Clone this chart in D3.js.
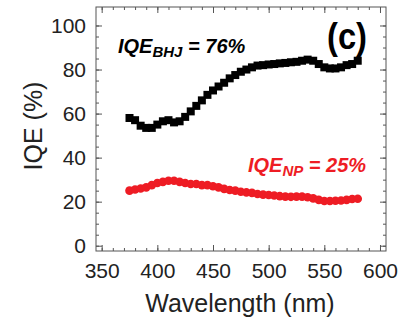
<!DOCTYPE html>
<html>
<head>
<meta charset="utf-8">
<script src="https://cdn.jsdelivr.net/npm/d3@7/dist/d3.min.js"></script>
<style>
  html, body { margin: 0; padding: 0; background: #fff; }
  svg { display: block; font-family: "Liberation Sans", Arial, sans-serif; }
</style>
</head>
<body>
<svg id="chart" width="412" height="322"></svg>
<script>
// Data
const wavelengths = [375,380,385,390,395,400,405,410,415,420,425,430,435,440,445,450,455,460,465,470,475,480,485,490,495,500,505,510,515,520,525,530,535,540,545,550,555,560,565,570,575,580];
const iqeBHJ = [58,57,54.5,53.5,53.5,55,56.5,57,56,56.5,58.5,61,63.5,66,68.5,70.5,72.3,74,76,77.5,79,80,81,81.8,82,82.3,82.5,82.8,83,83.3,83.5,84,84.5,84,82.5,81,80.5,80.5,81,82,82.5,84];
const iqeNP = [25,25.5,26,26.5,27.5,28.5,29,29.5,29.5,29,28.5,28,28,27.5,27.5,27,26.5,25.8,25.3,25,24.5,24.2,24,23.5,23.2,23,22.8,22.5,22.3,22.2,22.3,22.3,22,21.5,20.8,20.3,20.3,20.4,20.5,20.8,21.2,21.3];
const xTicks = [350,400,450,500,550,600];
const yTicks = [0,20,40,60,80,100];

const svg = d3.select("#chart");
const L = 96, R = 386, T = 7, B = 251;
const x = d3.scaleLinear().domain([344.9, 605.4]).range([L, R]);
const y = d3.scaleLinear().domain([-2.4, 108.4]).range([B, T]);
const axisColor = "#555";

// Frame
svg.append("rect").attr("x", L).attr("y", T).attr("width", R - L).attr("height", B - T)
  .attr("fill", "none").attr("stroke", axisColor).attr("stroke-width", 1);

const xMinor = d3.range(350, 601, 10);
const yMinor = d3.range(0, 101, 5);

function styleAxis(g) {
  g.select(".domain").remove();
  g.selectAll("line").attr("stroke", axisColor);
}

// bottom
svg.append("g").attr("transform", `translate(0,${B})`)
  .call(d3.axisBottom(x).tickValues(xMinor).tickSize(-3).tickFormat(""))
  .call(styleAxis);
svg.append("g").attr("transform", `translate(0,${B})`)
  .call(d3.axisBottom(x).tickValues(xTicks).tickSize(-6).tickPadding(12).tickFormat(d3.format("d")))
  .call(styleAxis)
  .call(g => g.selectAll("text").attr("font-size", 21).attr("fill", "#222")
    .attr("font-family", "Liberation Sans, Arial, sans-serif"));
// top
svg.append("g").attr("transform", `translate(0,${T})`)
  .call(d3.axisTop(x).tickValues(xMinor).tickSize(-3).tickFormat(""))
  .call(styleAxis);
svg.append("g").attr("transform", `translate(0,${T})`)
  .call(d3.axisTop(x).tickValues(xTicks).tickSize(-6).tickFormat(""))
  .call(styleAxis);
// left
svg.append("g").attr("transform", `translate(${L},0)`)
  .call(d3.axisLeft(y).tickValues(yMinor).tickSize(-3).tickFormat(""))
  .call(styleAxis);
svg.append("g").attr("transform", `translate(${L},0)`)
  .call(d3.axisLeft(y).tickValues(yTicks).tickSize(-6).tickPadding(10).tickFormat(d3.format("d")))
  .call(styleAxis)
  .call(g => g.selectAll("text").attr("font-size", 21).attr("fill", "#222")
    .attr("font-family", "Liberation Sans, Arial, sans-serif"));
// right
svg.append("g").attr("transform", `translate(${R},0)`)
  .call(d3.axisRight(y).tickValues(yMinor).tickSize(-3).tickFormat(""))
  .call(styleAxis);
svg.append("g").attr("transform", `translate(${R},0)`)
  .call(d3.axisRight(y).tickValues(yTicks).tickSize(-6).tickFormat(""))
  .call(styleAxis);

// Axis titles
svg.append("text").attr("x", (L + R) / 2 - 1).attr("y", 312).attr("text-anchor", "middle")
  .attr("font-size", 25).attr("fill", "#222").text("Wavelength (nm)");
svg.append("text").attr("transform", `translate(42,${(T + B) / 2 - 3}) rotate(-90)`)
  .attr("text-anchor", "middle").attr("font-size", 25).attr("fill", "#222").text("IQE (%)");

// Series
const red = "#ee1c24";
const bhj = wavelengths.map((w, i) => [w, iqeBHJ[i]]);
const np = wavelengths.map((w, i) => [w, iqeNP[i]]);
const sq = 8;
svg.append("g").selectAll("rect").data(bhj).join("rect")
  .attr("x", d => x(d[0]) - sq / 2).attr("y", d => y(d[1]) - sq / 2)
  .attr("width", sq).attr("height", sq).attr("fill", "#000");
svg.append("g").selectAll("circle").data(np).join("circle")
  .attr("cx", d => x(d[0])).attr("cy", d => y(d[1])).attr("r", 4.3).attr("fill", red);

// Annotations
const t1 = svg.append("text").attr("x", 118).attr("y", 53)
  .attr("font-size", 20).attr("font-weight", "bold").attr("font-style", "italic").attr("fill", "#000");
t1.append("tspan").text("IQE");
t1.append("tspan").attr("font-size", 15).attr("dy", 4).text("BHJ");
t1.append("tspan").attr("dy", -4).text(" = 76%");

const t2 = svg.append("text").attr("x", 248).attr("y", 172)
  .attr("font-size", 20).attr("font-weight", "bold").attr("font-style", "italic").attr("fill", red);
t2.append("tspan").text("IQE");
t2.append("tspan").attr("font-size", 15).attr("dy", 4).text("NP");
t2.append("tspan").attr("dy", -4).text(" = 25%");

svg.append("text").attr("x", 327).attr("y", 49).attr("font-size", 36).attr("font-weight", "bold")
  .attr("textLength", 40).attr("lengthAdjust", "spacingAndGlyphs").attr("fill", "#000").text("(c)");
</script>
</body>
</html>
